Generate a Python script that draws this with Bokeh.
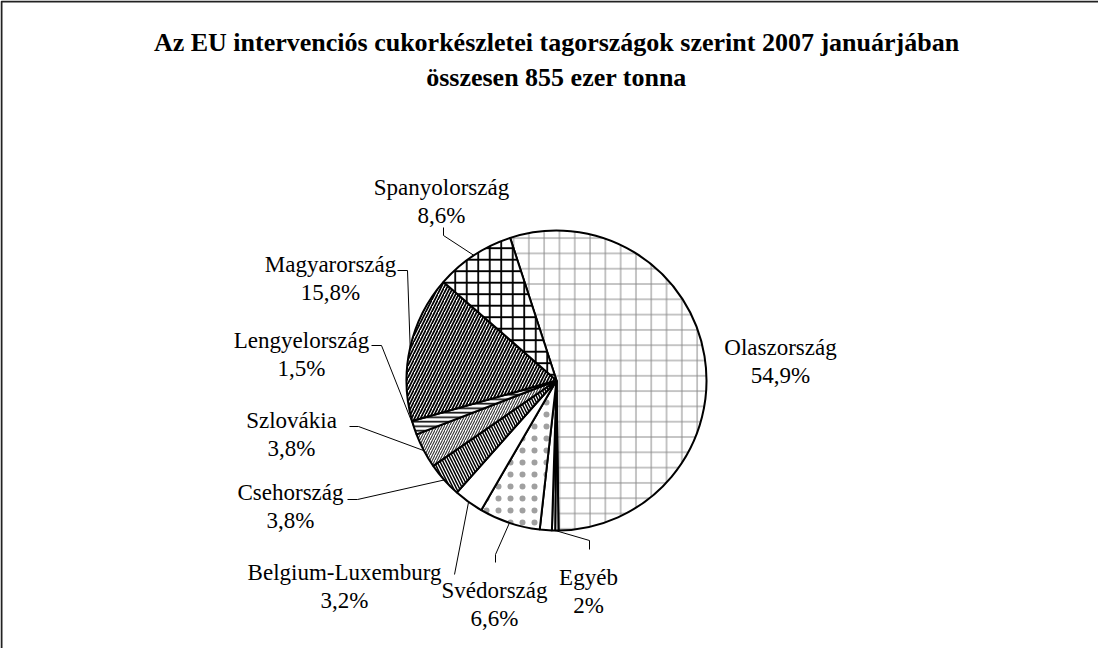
import numpy as np
from bokeh.plotting import figure
from bokeh.models import Range1d
from bokeh.core.properties import value
from bokeh.embed import file_html
from bokeh.resources import INLINE

# ---------------- data ----------------
countries = ["Olaszország", "Egyéb", "Svédország", "Belgium-Luxemburg", "Csehország",
             "Szlovákia", "Lengyelország", "Magyarország", "Spanyolország"]
shares = [54.9, 2.0, 6.6, 3.2, 3.8, 3.8, 1.5, 15.8, 8.6]
pct_labels = ["54,9%", "2%", "6,6%", "3,2%", "3,8%", "3,8%", "1,5%", "15,8%", "8,6%"]
egyeb_parts = [0.35, 0.35, 1.3]   # thin sub-slices visible inside "Egyéb"
title_lines = ["Az EU intervenciós cukorkészletei tagországok szerint 2007 januárjában",
               "összesen 855 ezer tonna"]

# ---------------- layout ----------------
W, H = 1098, 648
OX, OY = 8, 8
def X(px): return px - OX
def Y(py): return H - (py - OY)

CX, CY, R = 564, 388, 150
START = 108.0
FONT = "Liberation Serif"

hatch = {
    "Olaszország": dict(hatch_pattern="+", hatch_scale=15.3, hatch_weight=1.0, hatch_color="#8a8a8a"),
    "Svédország": dict(hatch_pattern=".", hatch_scale=12, hatch_weight=1, hatch_color="#a0a0a0"),
    "Csehország": dict(hatch_pattern="\\", hatch_scale=6, hatch_weight=1.5, hatch_color="black"),
    "Szlovákia": dict(hatch_pattern="/", hatch_scale=5, hatch_weight=1.1, hatch_color="#333333"),
    "Lengyelország": dict(hatch_pattern="-", hatch_scale=4.5, hatch_weight=1.6, hatch_color="black"),
    "Magyarország": dict(hatch_pattern="/", hatch_scale=6, hatch_weight=1.7, hatch_color="black"),
    "Spanyolország": dict(hatch_pattern="+", hatch_scale=11.5, hatch_weight=1.8, hatch_color="black"),
}

# label positions: (center x, baseline of name line) in page pixels, plus leader elbow points
label_pos = {
    "Olaszország": (788, 355),
    "Egyéb": (596, 585),
    "Svédország": (502, 598),
    "Belgium-Luxemburg": (352, 580),
    "Csehország": (298, 500),
    "Szlovákia": (299, 428),
    "Lengyelország": (309, 348),
    "Magyarország": (338, 272),
    "Spanyolország": (449, 195),
}
leader_elbows = {
    "Egyéb": [(597, 557), (597, 548)],
    "Svédország": [(503, 570), (503, 562)],
    "Belgium-Luxemburg": [(462, 582)],
    "Csehország": [(355, 507), (365, 507)],
    "Szlovákia": [(357, 434), (366, 434)],
    "Lengyelország": [(379, 353), (389, 353)],
    "Magyarország": [(405, 278), (415, 278)],
    "Spanyolország": [(451, 235), (451, 243)],
}

p = figure(width=W, height=H, output_backend="svg", toolbar_location=None,
           x_range=Range1d(0, W), y_range=Range1d(0, H), min_border=0)
p.axis.visible = False
p.grid.visible = False
p.outline_line_color = None
p.background_fill_color = "white"
p.border_fill_color = "white"

# frame (left and top edges are visible in the reference)
p.line([X(9), X(9), W + 5], [-5, Y(9), Y(9)], line_color="#222222", line_width=2)

total = sum(shares)
k = 360.0 / total
cum = 0.0
mids = {}
for name, s in zip(countries, shares):
    a0 = START - cum * k
    a1 = a0 - s * k
    cum += s
    if name == "Egyéb":
        sub_cum = 0.0
        for part in egyeb_parts:
            b0 = a0 - sub_cum * k
            b1 = b0 - part * k
            sub_cum += part
            p.wedge(x=[X(CX)], y=[Y(CY)], radius=R, start_angle=np.radians(b0),
                    end_angle=np.radians(b1), direction="clock",
                    fill_color="white", line_color="black", line_width=2)
        mids[name] = a0 - (egyeb_parts[0] + egyeb_parts[1]) / 2 * k
    else:
        p.wedge(x=[X(CX)], y=[Y(CY)], radius=R, start_angle=np.radians(a0),
                end_angle=np.radians(a1), direction="clock",
                fill_color="white", line_color="black", line_width=2,
                **hatch.get(name, {}))
        mids[name] = (a0 + a1) / 2

# leader lines
for name, elbows in leader_elbows.items():
    ang = np.radians(mids[name])
    ex = X(CX) + R * np.cos(ang)
    ey = Y(CY) + R * np.sin(ang)
    xs = [X(px) for px, py in elbows] + [ex]
    ys = [Y(py) for px, py in elbows] + [ey]
    p.line(xs, ys, line_color="black", line_width=1)

# data labels
for name, pct in zip(countries, pct_labels):
    lx, ly = label_pos[name]
    p.text(x=[X(lx), X(lx)], y=[Y(ly), Y(ly + 28.3)], text=[name, pct],
           text_align="center", text_baseline="alphabetic",
           text_font=value(FONT), text_font_size="23px", text_color="black")

# title
p.text(x=[X(564), X(564)], y=[Y(50), Y(85)], text=title_lines,
       text_align="center", text_baseline="alphabetic",
       text_font=value(FONT), text_font_size="26px", text_font_style="bold",
       text_color="black")

open("out.html", "w").write(file_html(p, INLINE))
